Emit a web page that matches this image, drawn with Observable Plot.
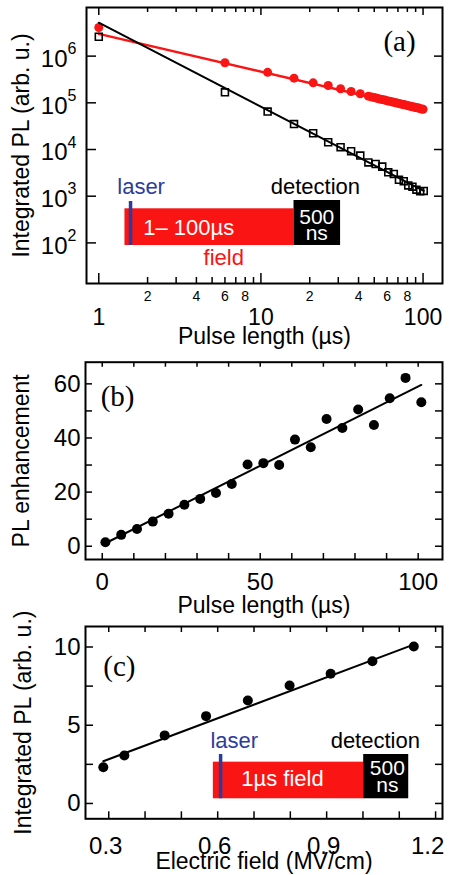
<!DOCTYPE html>
<html>
<head>
<meta charset="utf-8">
<script src="https://cdn.jsdelivr.net/npm/d3@7"></script>
<script src="https://cdn.jsdelivr.net/npm/@observablehq/plot@0.6"></script>
<style>
  body { margin: 0; background: #fff; }
  #chart svg { display: block; overflow: visible; }
</style>
</head>
<body>
<div id="chart"></div>
<script>
// ---------------- Panel (a): integrated PL vs pulse length (log-log) ----------------
const pulseBlack = [1,6,11,16,21,26,31,36,41,46,51,56,61,66,71,76,81,86,91,96,101];
const plBlack = [2.6e6,1.68e5,6.5e4,3.5e4,2.23e4,1.43e4,1.12e4,9.2e3,7.4e3,5.3e3,4.9e3,4.3e3,3.25e3,3.0e3,2.25e3,2.1e3,1.7e3,1.6e3,1.38e3,1.27e3,1.3e3];
const pulseRed = [1,6,11,16,21,26,31,36,41,46,48,50,52,54,56,58,60,62,64,66,68,70,72,74,76,78,80,82,84,86,88,90,92,94,96,98,100];
const plRed = [4.1e6,7.2e5,4.5e5,3.37e5,2.68e5,2.35e5,2.0e5,1.75e5,1.56e5,1.39e5,1.34e5,1.3e5,1.25e5,1.21e5,1.18e5,1.15e5,1.11e5,1.08e5,1.06e5,1.03e5,1.0e5,9.8e4,9.6e4,9.3e4,9.15e4,8.95e4,8.8e4,8.6e4,8.4e4,8.25e4,8.1e4,7.95e4,7.8e4,7.7e4,7.5e4,7.4e4,7.3e4];
const fitBlackX = [1, 101];
const fitBlackY = [5.2e6, 1.3e3];
const fitRedX = [1, 101];
const fitRedY = [3.0e6, 7.2e4];
const xMajorA = [1, 10, 100];
const xMinorA = [2,3,4,5,6,7,8,9,20,30,40,50,60,70,80,90];
const xMinorLabelsA = [2,4,6,8,20,40,60,80];
const yTicksA = [1e2,1e3,1e4,1e5,1e6];
// inset schematic of panel (a), in data units
const fieldBarA = [1.45, 16, 88, 537];   // x1, x2, y1, y2
const detBarA = [16, 31, 88, 809];
const laserLineA = [1.57, 88, 771];      // x, y1, y2

// ---------------- Panel (b): PL enhancement vs pulse length ----------------
const pulseB = [1,6,11,16,21,26,31,36,41,46,51,56,61,66,71,76,81,86,91,96,101];
const enhB = [1.5,4.2,6.4,9.1,12,15.3,17.5,19.7,23,30.2,30.7,30,39.4,36.6,47,43.7,50.5,44.8,54.7,62.2,53.2];
const fitBX = [1, 101];
const fitBY = [1.1, 59.6];
const xTicksB = [0,10,20,30,40,50,60,70,80,90,100];
const xLabelsB = [0,50,100];
const yTicksB = [0,10,20,30,40,50,60];
const yLabelsB = [0,20,40,60];

// ---------------- Panel (c): integrated PL vs electric field ----------------
const fieldC = [0.285,0.343,0.454,0.568,0.683,0.798,0.911,1.026,1.140];
const plC = [2.32,3.07,4.35,5.58,6.58,7.54,8.29,9.09,10.03];
const fitCX = [0.285, 1.145];
const fitCY = [2.70, 10.2];
const xTicksC = [0.3,0.4,0.5,0.6,0.7,0.8,0.9,1.0,1.1,1.2];
const xLabelsC = [0.3,0.6,0.9,1.2];
const yTicksC = [0,2.5,5,7.5,10];
const yLabelsC = [0,5,10];
const fieldBarC = [0.588, 1.002, 0.30, 2.64];
const detBarC = [1.002, 1.126, 0.30, 3.13];
const laserLineC = [0.608, 0.30, 3.13];

// ---------------- styles ----------------
const FONT = "Liberation Sans, Arial, Helvetica, sans-serif";
const SERIF = "Liberation Serif, Times New Roman, serif";
const RED = "#fa1414";
const BLUE = "#2c3c9c";
const W = 450;

function inward(xs, ys, H, Wf, o) {
  const sw = o.sw ?? 1.5;
  const m = [];
  if (xs && xs.length) {
    m.push(Plot.ruleX(xs, {x: d => d, insetTop: H - o.xb, stroke: "black", strokeWidth: sw}));
    m.push(Plot.ruleX(xs, {x: d => d, insetBottom: H - o.xt, stroke: "black", strokeWidth: sw}));
  }
  if (ys && ys.length) {
    m.push(Plot.ruleY(ys, {y: d => d, insetRight: Wf - o.yl, stroke: "black", strokeWidth: sw}));
    m.push(Plot.ruleY(ys, {y: d => d, insetLeft: Wf - o.yr, stroke: "black", strokeWidth: sw}));
  }
  return m;
}
const pts = (xs, ys) => xs.map((x, i) => ({x, y: ys[i]}));
const rectOf = (b) => [{x1: b[0], x2: b[1], y1: b[2], y2: b[3]}];
const yTitle = (t, dx) => Plot.text([t], {frameAnchor: "left", text: d => d, dx, rotate: -90, textAnchor: "middle", lineAnchor: "bottom", fontSize: 23});

// ---------------- Panel (a) ----------------
const A = {h: 350, mt: 7, mb: 67, ml: 86, mr: 8};
const HA = A.h - A.mt - A.mb, WA = W - A.ml - A.mr;
const plotA = Plot.plot({
  width: W, height: A.h,
  marginTop: A.mt, marginBottom: A.mb, marginLeft: A.ml, marginRight: A.mr,
  x: {type: "log", domain: [0.84, 131.8], axis: null},
  y: {type: "log", domain: [13.5, 1.1e7], axis: null},
  style: {fontFamily: FONT, background: "white", color: "black", overflow: "visible"},
  marks: [
    ...inward(xMajorA, null, HA, WA, {xb: 10, xt: 8}),
    ...inward(xMinorA, null, HA, WA, {xb: 6, xt: 5}),
    ...inward(null, yTicksA, HA, WA, {yl: 10, yr: 8}),
    // inset schematic
    Plot.rect(rectOf(fieldBarA), {x1: "x1", x2: "x2", y1: "y1", y2: "y2", fill: RED}),
    Plot.rect(rectOf(detBarA), {x1: "x1", x2: "x2", y1: "y1", y2: "y2", fill: "black"}),
    Plot.ruleX([laserLineA], {x: d => d[0], y1: d => d[1], y2: d => d[2], stroke: BLUE, strokeWidth: 3.5}),
    Plot.text([{x: 1.30, y: 1614, t: "laser"}], {x: "x", y: "y", text: "t", textAnchor: "start", lineAnchor: "middle", fill: BLUE, fontSize: 22}),
    Plot.text([{x: 11.5, y: 1614, t: "detection"}], {x: "x", y: "y", text: "t", textAnchor: "start", lineAnchor: "middle", fill: "black", fontSize: 22}),
    Plot.text([{x: 1.88, y: 214, t: "1\u2013 100\u00b5s"}], {x: "x", y: "y", text: "t", textAnchor: "start", lineAnchor: "middle", fill: "white", fontSize: 22}),
    Plot.text([{x: 22.1, y: 224, t: "500\nns"}], {x: "x", y: "y", text: "t", textAnchor: "middle", lineAnchor: "middle", lineHeight: 0.8, fill: "white", fontSize: 21}),
    Plot.text([{x: 4.43, y: 48.7, t: "field"}], {x: "x", y: "y", text: "t", textAnchor: "start", lineAnchor: "middle", fill: RED, fontSize: 22}),
    // data
    Plot.line(pts(fitRedX, fitRedY), {x: "x", y: "y", stroke: RED, strokeWidth: 2.5}),
    Plot.dot(pts(pulseRed, plRed), {x: "x", y: "y", r: 4.5, fill: RED}),
    Plot.line(pts(fitBlackX, fitBlackY), {x: "x", y: "y", stroke: "black", strokeWidth: 2}),
    Plot.dot(pts(pulseBlack, plBlack), {x: "x", y: "y", symbol: "square", r: 3.9, stroke: "black", strokeWidth: 1.6, fill: "none"}),
    // panel label
    Plot.text([{x: 90, y: 1.99e6, t: "(a)"}], {x: "x", y: "y", text: "t", textAnchor: "end", lineAnchor: "middle", fontFamily: SERIF, fontSize: 29}),
    // tick labels
    Plot.text(xMajorA, {x: d => d, frameAnchor: "bottom", text: d => String(d), dy: 25, lineAnchor: "top", fontSize: 23}),
    Plot.text(xMinorLabelsA, {x: d => d, frameAnchor: "bottom", text: d => String(d).charAt(0), dy: 8, lineAnchor: "top", fontSize: 14}),
    Plot.text(yTicksA, {y: d => d, frameAnchor: "left", text: () => "10", textAnchor: "end", dx: -19, dy: 3, lineAnchor: "middle", fontSize: 24}),
    Plot.text(yTicksA, {y: d => d, frameAnchor: "left", text: d => String(Math.round(Math.log10(d))), textAnchor: "start", dx: -19, dy: -7, lineAnchor: "middle", fontSize: 16}),
    // axis titles
    Plot.text(["Pulse length (\u00b5s)"], {frameAnchor: "bottom", text: d => d, dy: 60, lineAnchor: "bottom", fontSize: 23}),
    yTitle("Integrated PL (arb. u.)", -58),
    Plot.frame({stroke: "black", strokeWidth: 2})
  ]
});

// ---------------- Panel (b) ----------------
const B = {h: 270, mt: 11.7, mb: 61, ml: 85, mr: 8};
const HB = B.h - B.mt - B.mb, WB = W - B.ml - B.mr;
const plotB = Plot.plot({
  width: W, height: B.h,
  marginTop: B.mt, marginBottom: B.mb, marginLeft: B.ml, marginRight: B.mr,
  x: {domain: [-5.3, 107.7], axis: null},
  y: {domain: [-4.9, 68], axis: null},
  style: {fontFamily: FONT, background: "white", color: "black", overflow: "visible"},
  marks: [
    ...inward(xTicksB, null, HB, WB, {xb: 6, xt: 5}),
    ...inward(null, yTicksB, HB, WB, {yl: 7, yr: 7}),
    Plot.line(pts(fitBX, fitBY), {x: "x", y: "y", stroke: "black", strokeWidth: 2}),
    Plot.dot(pts(pulseB, enhB), {x: "x", y: "y", r: 5, fill: "black"}),
    Plot.text([{x: -0.5, y: 55.3, t: "(b)"}], {x: "x", y: "y", text: "t", textAnchor: "start", lineAnchor: "middle", fontFamily: SERIF, fontSize: 29}),
    Plot.text(xLabelsB, {x: d => d, frameAnchor: "bottom", text: d => String(d), dy: 13, lineAnchor: "top", fontSize: 24}),
    Plot.text(yLabelsB, {y: d => d, frameAnchor: "left", text: d => String(d), textAnchor: "end", dx: -5, lineAnchor: "middle", fontSize: 24}),
    Plot.text(["Pulse length (\u00b5s)"], {frameAnchor: "bottom", text: d => d, dy: 53.7, lineAnchor: "bottom", fontSize: 23}),
    yTitle("PL enhancement", -57),
    Plot.frame({stroke: "black", strokeWidth: 2})
  ]
});

// ---------------- Panel (c) ----------------
const C = {h: 255, mt: 6, mb: 56.7, ml: 85, mr: 8};
const HC = C.h - C.mt - C.mb, WC = W - C.ml - C.mr;
const plotC = Plot.plot({
  width: W, height: C.h,
  marginTop: C.mt, marginBottom: C.mb, marginLeft: C.ml, marginRight: C.mr,
  x: {domain: [0.236, 1.219], axis: null},
  y: {domain: [-0.98, 11.31], axis: null},
  style: {fontFamily: FONT, background: "transparent", color: "black", overflow: "visible"},
  marks: [
    ...inward(xTicksC, null, HC, WC, {xb: 7, xt: 6}),
    ...inward(null, yTicksC, HC, WC, {yl: 8, yr: 7}),
    // inset schematic
    Plot.rect(rectOf(fieldBarC), {x1: "x1", x2: "x2", y1: "y1", y2: "y2", fill: RED}),
    Plot.rect(rectOf(detBarC), {x1: "x1", x2: "x2", y1: "y1", y2: "y2", fill: "black"}),
    Plot.ruleX([laserLineC], {x: d => d[0], y1: d => d[1], y2: d => d[2], stroke: BLUE, strokeWidth: 3.5}),
    Plot.text([{x: 0.580, y: 4.01, t: "laser"}], {x: "x", y: "y", text: "t", textAnchor: "start", lineAnchor: "middle", fill: BLUE, fontSize: 22}),
    Plot.text([{x: 0.911, y: 4.01, t: "detection"}], {x: "x", y: "y", text: "t", textAnchor: "start", lineAnchor: "middle", fill: "black", fontSize: 22}),
    Plot.text([{x: 0.665, y: 1.55, t: "1\u00b5s field"}], {x: "x", y: "y", text: "t", textAnchor: "start", lineAnchor: "middle", fill: "white", fontSize: 22}),
    Plot.text([{x: 1.067, y: 1.60, t: "500\nns"}], {x: "x", y: "y", text: "t", textAnchor: "middle", lineAnchor: "middle", lineHeight: 0.8, fill: "white", fontSize: 21}),
    // data
    Plot.line(pts(fitCX, fitCY), {x: "x", y: "y", stroke: "black", strokeWidth: 2}),
    Plot.dot(pts(fieldC, plC), {x: "x", y: "y", r: 5, fill: "black"}),
    Plot.text([{x: 0.285, y: 8.75, t: "(c)"}], {x: "x", y: "y", text: "t", textAnchor: "start", lineAnchor: "middle", fontFamily: SERIF, fontSize: 29}),
    Plot.text(xLabelsC.slice(0, 3), {x: d => d, frameAnchor: "bottom", text: d => d.toFixed(1), dy: 18, dx: -3, lineAnchor: "top", fontSize: 24}),
    Plot.text(xLabelsC.slice(3), {x: d => d, frameAnchor: "bottom", text: d => d.toFixed(1), dy: 18, dx: -8, lineAnchor: "top", fontSize: 24}),
    Plot.text(yLabelsC, {y: d => d, frameAnchor: "left", text: d => String(d), textAnchor: "end", dx: -5, lineAnchor: "middle", fontSize: 24}),
    Plot.text(["Electric field (MV/cm)"], {frameAnchor: "bottom", text: d => d, dy: 50, lineAnchor: "bottom", fontSize: 23}),
    yTitle("Integrated PL (arb. u.)", -55),
    Plot.frame({stroke: "black", strokeWidth: 2})
  ]
});

const root = document.getElementById("chart");
root.append(plotA, plotB, plotC);
</script>
</body>
</html>
